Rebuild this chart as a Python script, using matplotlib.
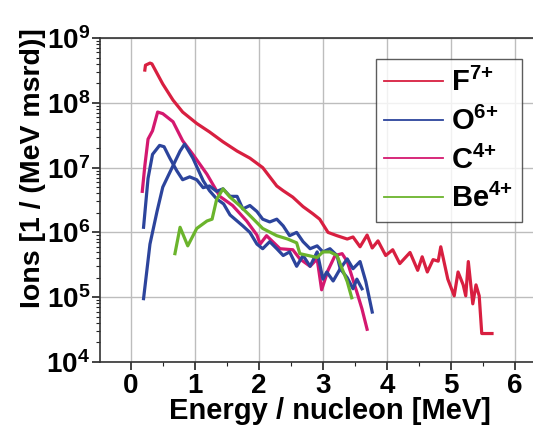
import matplotlib
matplotlib.use("Agg")
import matplotlib.pyplot as plt
from matplotlib.ticker import LogLocator, MultipleLocator, FixedLocator
from matplotlib.lines import Line2D

plt.rcParams['font.family'] = ['Liberation Sans', 'DejaVu Sans']
plt.rcParams['mathtext.fontset'] = 'custom'
plt.rcParams['mathtext.bf'] = 'Liberation Sans:bold'
plt.rcParams['mathtext.rm'] = 'Liberation Sans:bold'

# ---- data (energy per nucleon [MeV], ions [1/(MeV msr)]) ----
f_x = [0.22, 0.23, 0.30, 0.33, 0.50, 0.66, 0.81, 1.03, 1.23, 1.44, 1.66, 1.86, 2.06, 2.28,
       2.38, 2.53, 2.69, 2.84, 2.95, 3.08, 3.22, 3.38, 3.47, 3.58, 3.69, 3.77, 3.86, 3.98,
       4.09, 4.20, 4.36, 4.48, 4.55, 4.63, 4.72, 4.80, 4.84, 4.95, 5.05, 5.11, 5.19, 5.23,
       5.27, 5.34, 5.39, 5.44, 5.48, 5.64]
f_y = [3.2e8, 3.8e8, 4.1e8, 4.0e8, 1.95e8, 1.1e8, 7.2e7, 4.8e7, 3.55e7, 2.5e7, 1.8e7, 1.4e7,
       1.0e7, 5.2e6, 4.4e6, 3.5e6, 2.5e6, 1.95e6, 1.6e6, 1.0e6, 8.9e5, 7.9e5, 8.5e5, 6.0e5,
       9.1e5, 5.75e5, 7.4e5, 4.4e5, 5.4e5, 3.3e5, 4.9e5, 2.6e5, 4.2e5, 2.45e5, 3.8e5, 3.6e5,
       6.0e5, 1.9e5, 1.05e5, 2.45e5, 1.55e5, 1.05e5, 3.55e5, 7.9e4, 1.55e5, 1.05e5, 2.75e4,
       2.75e4]

o1_x = [0.20, 0.27, 0.34, 0.45, 0.52, 0.61, 0.72, 0.81, 0.92, 1.03, 1.13, 1.23, 1.34, 1.44,
        1.55, 1.66, 1.75, 1.86, 1.97, 2.06, 2.17, 2.28, 2.38, 2.48, 2.59, 2.69, 2.80, 2.91,
        3.00, 3.11, 3.22, 3.27, 3.38, 3.47, 3.58, 3.67, 3.77]
o1_y = [1.2e6, 6.8e6, 1.6e7, 2.2e7, 2.1e7, 1.4e7, 8.9e6, 6.5e6, 7.2e6, 6.5e6, 4.9e6, 5.2e6,
        4.3e6, 4.7e6, 3.6e6, 3.6e6, 2.3e6, 2.6e6, 2.1e6, 1.6e6, 1.45e6, 1.6e6, 1.26e6, 8.9e5,
        1.0e6, 7.2e5, 5.6e5, 6.2e5, 5.0e5, 5.6e5, 4.4e5, 2.75e5, 3.9e5, 2.75e5, 3.55e5,
        1.74e5, 5.9e4]

o2_x = [0.20, 0.30, 0.41, 0.50, 0.66, 0.77, 0.84, 0.97, 1.13, 1.23, 1.34, 1.45, 1.55, 1.75,
        1.86, 1.97, 2.06, 2.17, 2.28, 2.38, 2.48, 2.59, 2.69, 2.80, 2.91, 3.00, 3.06, 3.16,
        3.27, 3.38, 3.47, 3.53, 3.61]
o2_y = [9.5e4, 6.6e5, 2.1e6, 5.0e6, 1.07e7, 1.8e7, 2.3e7, 1.4e7, 6.3e6, 4.4e6, 3.3e6, 2.75e6,
        1.86e6, 1.26e6, 1.0e6, 6.6e5, 5.6e5, 7.2e5, 5.6e5, 4.4e5, 5.0e5, 3.0e5, 4.4e5, 3.0e5,
        5.0e5, 1.9e5, 2.45e5, 1.78e5, 2.75e5, 2.0e5, 1.35e5, 1.9e5, 1.35e5]

c_x = [0.18, 0.22, 0.27, 0.34, 0.42, 0.50, 0.66, 0.81, 0.97, 1.19, 1.39, 1.59, 1.81, 1.97,
       2.02, 2.12, 2.33, 2.53, 2.64, 2.80, 2.91, 2.98, 3.08, 3.19, 3.30, 3.38, 3.44, 3.53,
       3.61, 3.69]
c_y = [4.3e6, 1.07e7, 2.75e7, 3.7e7, 7.2e7, 6.8e7, 5.1e7, 2.6e7, 1.6e7, 7.9e6, 3.6e6, 2.6e6,
       1.5e6, 9.1e5, 6.6e5, 8.9e5, 5.6e5, 5.4e5, 3.9e5, 3.0e5, 3.9e5, 1.3e5, 2.6e5, 4.4e5,
       4.7e5, 3.55e5, 2.3e5, 1.2e5, 6.6e4, 3.2e4]

be_x = [0.69, 0.77, 0.89, 1.03, 1.19, 1.27, 1.34, 1.44, 1.55, 1.70, 1.89, 2.06, 2.28, 2.45,
        2.59, 2.64, 2.77, 2.91, 3.00, 3.11, 3.22, 3.30, 3.38, 3.45]
be_y = [4.7e5, 1.2e6, 6.2e5, 1.15e6, 1.5e6, 1.6e6, 3.2e6, 4.7e6, 3.5e6, 2.6e6, 1.7e6, 1.15e6,
        8.9e5, 7.9e5, 6.9e5, 4.7e5, 4.4e5, 4.1e5, 5.0e5, 5.0e5, 4.4e5, 2.75e5, 1.74e5, 9.8e4]

labels = [r'$\mathbf{F^{7{+}}}$', r'$\mathbf{O^{6{+}}}$', r'$\mathbf{C^{4{+}}}$',
          r'$\mathbf{Be^{4{+}}}$']
x_ticks = [0, 1, 2, 3, 4, 5, 6]
y_ticks = [1e4, 1e5, 1e6, 1e7, 1e8, 1e9]
y_ticklabels = [r'$\mathbf{10^{4}}$', r'$\mathbf{10^{5}}$', r'$\mathbf{10^{6}}$',
                r'$\mathbf{10^{7}}$', r'$\mathbf{10^{8}}$', r'$\mathbf{10^{9}}$']

col_f = '#d81f40'
col_o = '#2c449c'
col_c = '#d4186f'
col_be = '#6bb42c'

fig = plt.figure(figsize=(5.33, 4.32), dpi=100)
ax = fig.add_axes([100/533, 70/432, 1 - 100/533, (362-38)/432])
lw = 2.3
ax.plot(c_x, c_y, color=col_c, lw=lw, zorder=3)
ax.plot(o1_x, o1_y, color=col_o, lw=lw, zorder=4)
ax.plot(o2_x, o2_y, color=col_o, lw=lw, zorder=4)
ax.plot(be_x, be_y, color=col_be, lw=lw, zorder=5)
ax.plot(f_x, f_y, color=col_f, lw=lw, zorder=6)

ax.set_yscale('log')
ax.set_xlim(-0.48, 6.28)
ax.set_ylim(1e4, 1e9)
ax.xaxis.set_major_locator(FixedLocator(x_ticks))
ax.xaxis.set_minor_locator(MultipleLocator(0.5))
ax.set_xticklabels([str(t) for t in x_ticks], fontsize=20, fontweight='bold')
ax.yaxis.set_major_locator(FixedLocator(y_ticks))
ax.set_yticklabels(y_ticklabels, fontsize=20)
ax.yaxis.set_minor_locator(LogLocator(base=10, subs=[2, 3, 4, 5, 6, 7, 8, 9], numticks=20))
ax.tick_params(axis='both', which='major', direction='out', length=6, width=1.2, colors='#222222')
ax.tick_params(axis='both', which='minor', direction='out', length=3, width=0.8, colors='#222222')
ax.tick_params(axis='x', pad=2)
ax.tick_params(axis='y', pad=1)
for t in ax.get_xticklabels() + ax.get_yticklabels():
    t.set_color('black')

ax.grid(True, which='major', color='#bdbdbd', lw=1.0)
ax.set_axisbelow(True)
ax.spines['right'].set_visible(False)
for s in ['left', 'bottom', 'top']:
    ax.spines[s].set_color('#333333')
    ax.spines[s].set_linewidth(1.2)

ax.set_xlabel('Energy / nucleon [MeV]', fontsize=21, fontweight='bold')
ax.set_ylabel('Ions [1 / (MeV msrd)]', fontsize=20.5, fontweight='bold')
ax.xaxis.set_label_coords(0.531, -0.108)
ax.yaxis.set_label_coords(-0.125, 0.6)

handles = [Line2D([], [], color=col_f, lw=1.3), Line2D([], [], color=col_o, lw=1.3),
           Line2D([], [], color=col_c, lw=1.3), Line2D([], [], color=col_be, lw=1.3)]
leg = ax.legend(handles, labels, loc='upper right', bbox_to_anchor=(0.975, 0.935),
                borderaxespad=0, fontsize=21, frameon=True, fancybox=False,
                edgecolor='#333333', handlelength=2.0, handletextpad=0.3,
                labelspacing=0.33, borderpad=0.3)
leg.get_frame().set_linewidth(1.0)
leg.set_zorder(10)

fig.savefig('out.png', dpi=100)
